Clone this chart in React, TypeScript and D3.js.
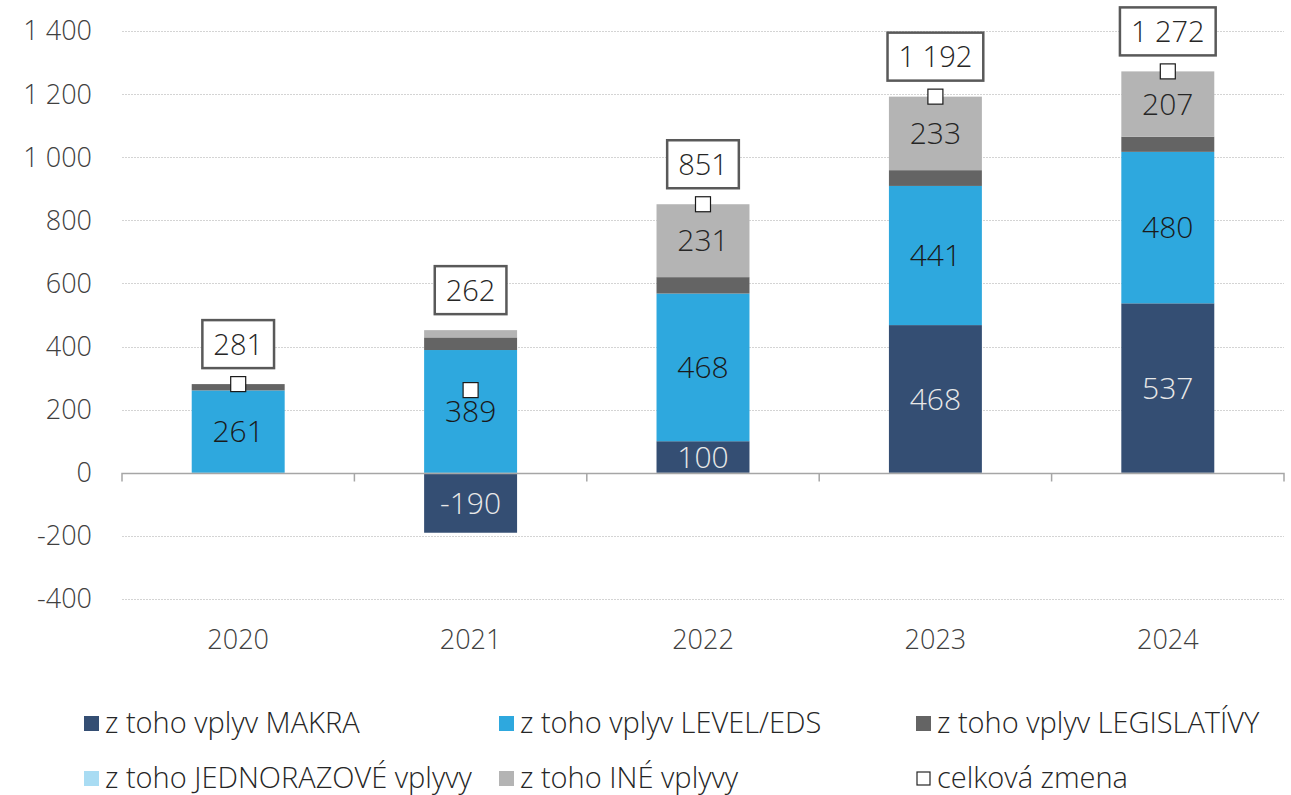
import * as d3 from "d3";
import { useEffect, useRef } from "react";

const years = ["2020", "2021", "2022", "2023", "2024"];
const makra = [0, -190, 100, 468, 537];
const level = [261, 389, 468, 441, 480];
const legislativa = [20, 40, 52, 50, 48];
const jednorazove = [0, 0, 0, 0, 0];
const ine = [0, 23, 231, 233, 207];
const celkova = [281, 262, 851, 1192, 1272];
const yTicks = [-400, -200, 0, 200, 400, 600, 800, 1000, 1200, 1400];

const seriesKeys = ["makra", "level", "legislativa", "jednorazove", "ine"];
const seriesNames = [
	"z toho vplyv MAKRA",
	"z toho vplyv LEVEL/EDS",
	"z toho vplyv LEGISLATÍVY",
	"z toho JEDNORAZOVÉ vplyvy",
	"z toho INÉ vplyvy",
];
const seriesColors = ["#344e73", "#2ea8de", "#646464", "#a9dcf3", "#b4b4b4"];
const labelColors = ["#e8e8e8", "#1a1a1a", "#1a1a1a", "#1a1a1a", "#262626"];
const labelled = ["makra", "level", "ine"];

const FONT = "'Open Sans', sans-serif";

function App() {
	const ref = useRef(null);

	useEffect(() => {
		document.body.style.margin = "0";
		const svg = d3.select(ref.current);
		svg.selectAll("*").remove();

		const width = 1291;
		const height = 795;
		const left = 122;
		const right = 1284;

		const fmt = d3.formatLocale({ decimal: ",", thousands: " ", grouping: [3], currency: ["", ""], minus: "-" }).format(",d");

		const rows = years.map((year, i) => ({
			year,
			makra: makra[i],
			level: level[i],
			legislativa: legislativa[i],
			jednorazove: jednorazove[i],
			ine: ine[i],
			total: celkova[i],
		}));

		const stacked = d3.stack().keys(seriesKeys).offset(d3.stackOffsetDiverging)(rows);

		const x = d3.scaleBand().domain(years).range([left, right]).padding(0);
		const barW = x.bandwidth() * 0.4;
		const cx = d => x(d) + x.bandwidth() / 2;
		const y = d3.scaleLinear().domain([-400, 1400]).range([599, 31]);

		svg.attr("width", width).attr("height", height).style("font-family", FONT).style("font-weight", 300);

		// gridlines
		svg.append("g")
			.selectAll("line")
			.data(yTicks.filter(t => t !== 0))
			.join("line")
			.attr("x1", left)
			.attr("x2", right)
			.attr("y1", d => Math.round(y(d)) + 0.5)
			.attr("y2", d => Math.round(y(d)) + 0.5)
			.attr("stroke", "#d4d4d4")
			.attr("stroke-dasharray", "2,1");

		// y tick labels
		svg.append("g")
			.selectAll("text")
			.data(yTicks)
			.join("text")
			.attr("x", 92)
			.attr("y", d => y(d))
			.attr("dy", "0.35em")
			.attr("text-anchor", "end")
			.attr("font-size", 27)
			.attr("fill", "#404040")
			.text(d => fmt(d));

		// bars
		stacked.forEach((s, si) => {
			svg.append("g")
				.attr("fill", seriesColors[si])
				.selectAll("rect")
				.data(s)
				.join("rect")
				.attr("x", d => cx(d.data.year) - barW / 2)
				.attr("width", barW)
				.attr("y", d => y(Math.max(d[0], d[1])))
				.attr("height", d => Math.abs(y(d[0]) - y(d[1])));
		});

		// category axis
		const axis = d3.axisBottom(x).tickSize(8).tickFormat(() => "");
		const ag = svg.append("g").attr("transform", `translate(0,${Math.round(y(0)) + 0.5})`).call(axis);
		ag.select(".domain").attr("stroke", "#a6a6a6").attr("stroke-width", 1.5).attr("d", `M${left},8V0H${right}V8`);
		ag.selectAll(".tick").remove();
		ag.selectAll(".bnd")
			.data(years.slice(1))
			.join("line")
			.attr("x1", d => x(d))
			.attr("x2", d => x(d))
			.attr("y1", 0)
			.attr("y2", 8)
			.attr("stroke", "#a6a6a6")
			.attr("stroke-width", 1.5);

		// x labels
		svg.append("g")
			.selectAll("text")
			.data(years)
			.join("text")
			.attr("x", d => cx(d))
			.attr("y", 640)
			.attr("dy", "0.35em")
			.attr("text-anchor", "middle")
			.attr("font-size", 27)
			.attr("fill", "#404040")
			.text(d => d);

		// segment labels
		stacked.forEach((s, si) => {
			const key = seriesKeys[si];
			if (!labelled.includes(key)) return;
			svg.append("g")
				.selectAll("text")
				.data(s.filter(d => Math.abs(d.data[key]) >= 100))
				.join("text")
				.attr("x", d => cx(d.data.year))
				.attr("y", d => y((d[0] + d[1]) / 2))
				.attr("dy", "0.36em")
				.attr("text-anchor", "middle")
				.attr("font-size", 30)
				.attr("fill", labelColors[si])
				.text(d => fmt(d.data[key]));
		});

		// total markers
		svg.append("g")
			.selectAll("rect")
			.data(rows)
			.join("rect")
			.attr("x", d => cx(d.year) - 7.5)
			.attr("y", d => y(d.total) - 7.5)
			.attr("width", 15)
			.attr("height", 15)
			.attr("fill", "#fff")
			.attr("stroke", "#1a1a1a")
			.attr("stroke-width", 1.2);

		// total boxes
		const tops = stacked[stacked.length - 1];
		rows.forEach((d, i) => {
			const topVal = Math.max(tops[i][1], d.total);
			const bottom = y(topVal) - 16;
			const g = svg.append("g");
			const t = g.append("text")
				.attr("x", cx(d.year))
				.attr("y", bottom - 24)
				.attr("dy", "0.36em")
				.attr("text-anchor", "middle")
				.attr("font-size", 29)
				.attr("fill", "#262626")
				.text(fmt(d.total));
			const w = t.node().getComputedTextLength() + 22;
			g.insert("rect", "text")
				.attr("x", cx(d.year) - w / 2)
				.attr("y", bottom - 48)
				.attr("width", w)
				.attr("height", 48)
				.attr("fill", "#fff")
				.attr("stroke", "#595959")
				.attr("stroke-width", 2.5);
		});

		// legend
		const legendItems = seriesNames.map((name, i) => ({ name, color: seriesColors[i], marker: false }));
		legendItems.push({ name: "celková zmena", color: "#fff", marker: true });
		const colX = [84, 499, 916];
		const rowY = [723, 778];
		const lg = svg.append("g")
			.selectAll("g")
			.data(legendItems)
			.join("g")
			.attr("transform", (d, i) => `translate(${colX[i % 3]},${rowY[Math.floor(i / 3)]})`);
		lg.append("rect")
			.attr("x", d => (d.marker ? 1 : 0))
			.attr("y", d => (d.marker ? -6 : -7))
			.attr("width", d => (d.marker ? 13 : 15))
			.attr("height", d => (d.marker ? 13 : 15))
			.attr("fill", d => d.color)
			.attr("stroke", d => (d.marker ? "#262626" : "none"))
			.attr("stroke-width", 1.2);
		lg.append("text")
			.attr("x", 21)
			.attr("y", 0)
			.attr("dy", "0.36em")
			.attr("font-size", 29)
			.attr("fill", "#262626")
			.text(d => d.name);
	}, []);

	return <svg ref={ref} style={{ display: "block" }}></svg>;
}

export default App;
